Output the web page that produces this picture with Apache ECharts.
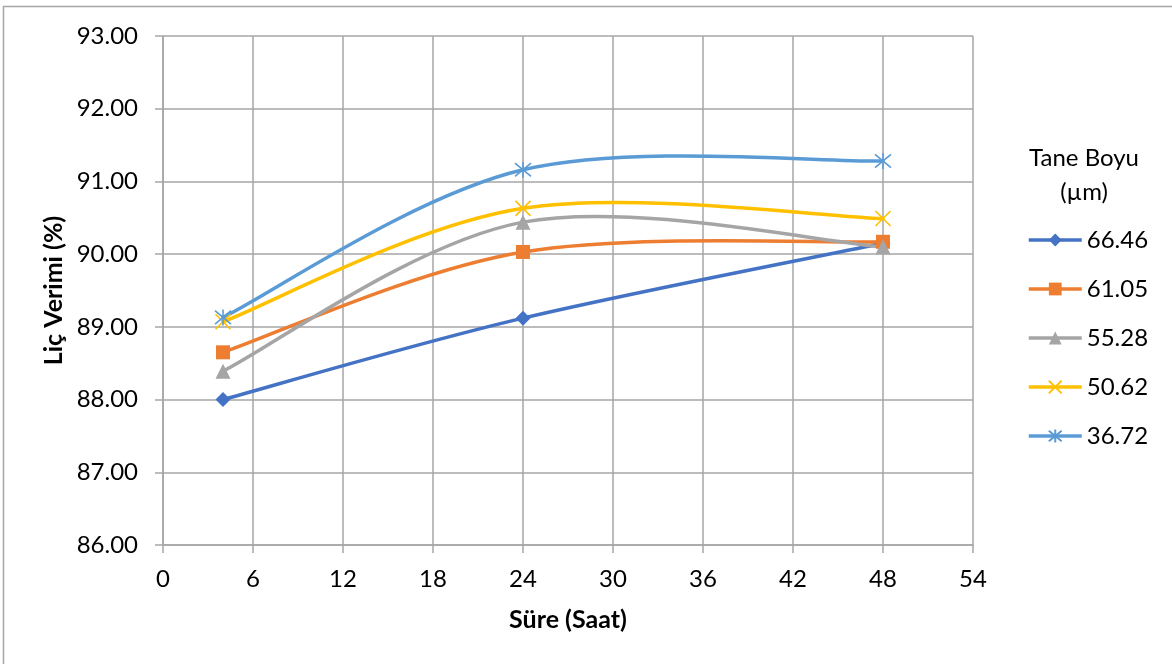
<!DOCTYPE html>
<html>
<head>
<meta charset="utf-8">
<script src="https://cdn.jsdelivr.net/npm/echarts@6/dist/echarts.min.js"></script>
<style>
  html, body { margin: 0; padding: 0; background: #fff; }
  #chart { width: 1172px; height: 664px; }
</style>
</head>
<body>
<div id="chart"></div>
<script>
// Leaching time (hours) and yield per grain size
const hours = [4, 24, 48];
const grainSizes = ['66.46', '61.05', '55.28', '50.62', '36.72'];
const yield6646 = [88.00, 89.12, 90.15];
const yield6105 = [88.65, 90.03, 90.17];
const yield5528 = [88.39, 90.44, 90.10];
const yield5062 = [89.07, 90.63, 90.49];
const yield3672 = [89.13, 91.16, 91.28];

const xTicks = { min: 0, max: 54, interval: 6 };
const yTicks = { min: 86, max: 93, interval: 1 };

const FONT = 'Lato, "Open Sans", sans-serif';
const GRID_GRAY = '#a6a6a6';
const colors = ['#4472C4', '#ED7D31', '#A5A5A5', '#FFC000', '#5B9BD5'];
const symbols = [
  'diamond',
  'rect',
  'triangle',
  'path://M0,0L10,10M10,0L0,10',
  'path://M0,0L10,10M10,0L0,10M5,-1L5,11'
];
const symbolSizes = [15, 14, 15, 15, 16];
const values = [yield6646, yield6105, yield5528, yield5062, yield3672];
const LINE_W = 3.5;

// Cardinal (Catmull-Rom, 1/6 tension) curve through pixel points,
// with end tangents taken from the neighbouring segment.
function smoothPath(pts) {
  const n = pts.length;
  const P = i => pts[Math.max(0, Math.min(n - 1, i))];
  let d = 'M' + pts[0][0] + ',' + pts[0][1];
  for (let i = 0; i < n - 1; i++) {
    const p0 = P(i - 1), p1 = P(i), p2 = P(i + 1), p3 = P(i + 2);
    const c1x = p1[0] + (p2[0] - p0[0]) / 6, c1y = p1[1] + (p2[1] - p0[1]) / 6;
    const c2x = p2[0] - (p3[0] - p1[0]) / 6, c2y = p2[1] - (p3[1] - p1[1]) / 6;
    d += 'C' + c1x + ',' + c1y + ',' + c2x + ',' + c2y + ',' + p2[0] + ',' + p2[1];
  }
  return d;
}

const curveSeries = grainSizes.map((name, i) => ({
  id: 'curve-' + name,
  name: 'curve-' + name,
  type: 'custom',
  coordinateSystem: 'cartesian2d',
  silent: true,
  z: 2,
  data: hours.map((h, k) => [h, values[i][k]]),
  renderItem: function (params, api) {
    if (params.dataIndex !== 0) return null;
    const pts = hours.map((h, k) => api.coord([h, values[i][k]]));
    return {
      type: 'path',
      shape: { pathData: smoothPath(pts) },
      style: { fill: 'none', stroke: colors[i], lineWidth: LINE_W, lineJoin: 'round', lineCap: 'round' }
    };
  }
}));

const markerSeries = grainSizes.map((name, i) => {
  const isStroke = i >= 3;
  return {
    name: name,
    type: 'line',
    data: hours.map((h, k) => [h, values[i][k]]),
    symbol: symbols[i],
    symbolSize: symbolSizes[i],
    showAllSymbol: true,
    lineStyle: { color: colors[i], width: LINE_W, opacity: 0 },
    itemStyle: isStroke
      ? { color: colors[i], borderColor: colors[i], borderWidth: 1.6 }
      : { color: colors[i], borderWidth: 0 },
    emphasis: { disabled: true },
    z: 3 + i
  };
});

const chart = echarts.init(document.getElementById('chart'), null, { renderer: 'canvas' });
chart.setOption({
  animation: false,
  backgroundColor: '#fff',
  textStyle: { fontFamily: FONT },
  grid: { left: 163, right: 199, top: 36, bottom: 119, containLabel: false },
  xAxis: {
    type: 'value',
    min: xTicks.min, max: xTicks.max, interval: xTicks.interval,
    name: 'Süre (Saat)',
    nameLocation: 'middle',
    nameGap: 62,
    nameMoveOverlap: false,
    nameTextStyle: { fontFamily: FONT, fontSize: 25, fontWeight: 'bold', color: '#000' },
    axisLine: { show: true, lineStyle: { color: GRID_GRAY, width: 1.5 } },
    axisTick: { show: true, length: 8, lineStyle: { color: GRID_GRAY, width: 1.5 } },
    axisLabel: { fontFamily: FONT, fontSize: 24, color: '#000', margin: 22 },
    splitLine: { show: true, lineStyle: { color: GRID_GRAY, width: 1.5 } }
  },
  yAxis: {
    type: 'value',
    min: yTicks.min, max: yTicks.max, interval: yTicks.interval,
    name: 'Liç Verimi (%)',
    nameLocation: 'middle',
    nameGap: 97,
    nameMoveOverlap: false,
    nameRotate: 90,
    nameTextStyle: { fontFamily: FONT, fontSize: 25, fontWeight: 'bold', color: '#000' },
    axisLine: { show: true, lineStyle: { color: GRID_GRAY, width: 1.5 } },
    axisTick: { show: true, length: 8, lineStyle: { color: GRID_GRAY, width: 1.5 } },
    axisLabel: {
      fontFamily: FONT, fontSize: 24, color: '#000', margin: 25,
      formatter: v => v.toFixed(2)
    },
    splitLine: { show: true, lineStyle: { color: GRID_GRAY, width: 1.5 } }
  },
  legend: {
    orient: 'vertical',
    left: 1027,
    top: 228,
    padding: 0,
    itemWidth: 53,
    itemHeight: 16,
    itemGap: 25,
    selectedMode: false,
    data: grainSizes.map((name, i) => ({
      name: name,
      lineStyle: { color: colors[i], width: LINE_W, opacity: 1 }
    })),
    textStyle: { fontFamily: FONT, fontSize: 24, color: '#000', lineHeight: 24 }
  },
  graphic: [
    {
      type: 'rect',
      shape: { x: 3.5, y: 6.5, width: 1200, height: 700 },
      style: { fill: 'none', stroke: GRID_GRAY, lineWidth: 1.5 },
      silent: true
    },
    {
      type: 'text',
      style: {
        x: 1084, y: 158,
        text: 'Tane Boyu',
        fontFamily: FONT, fontSize: 24, fill: '#000',
        align: 'center', verticalAlign: 'middle'
      }
    },
    {
      type: 'text',
      style: {
        x: 1084, y: 192,
        text: '(µm)',
        fontFamily: FONT, fontSize: 24, fill: '#000',
        align: 'center', verticalAlign: 'middle'
      }
    }
  ],
  series: curveSeries.concat(markerSeries)
});
</script>
</body>
</html>
